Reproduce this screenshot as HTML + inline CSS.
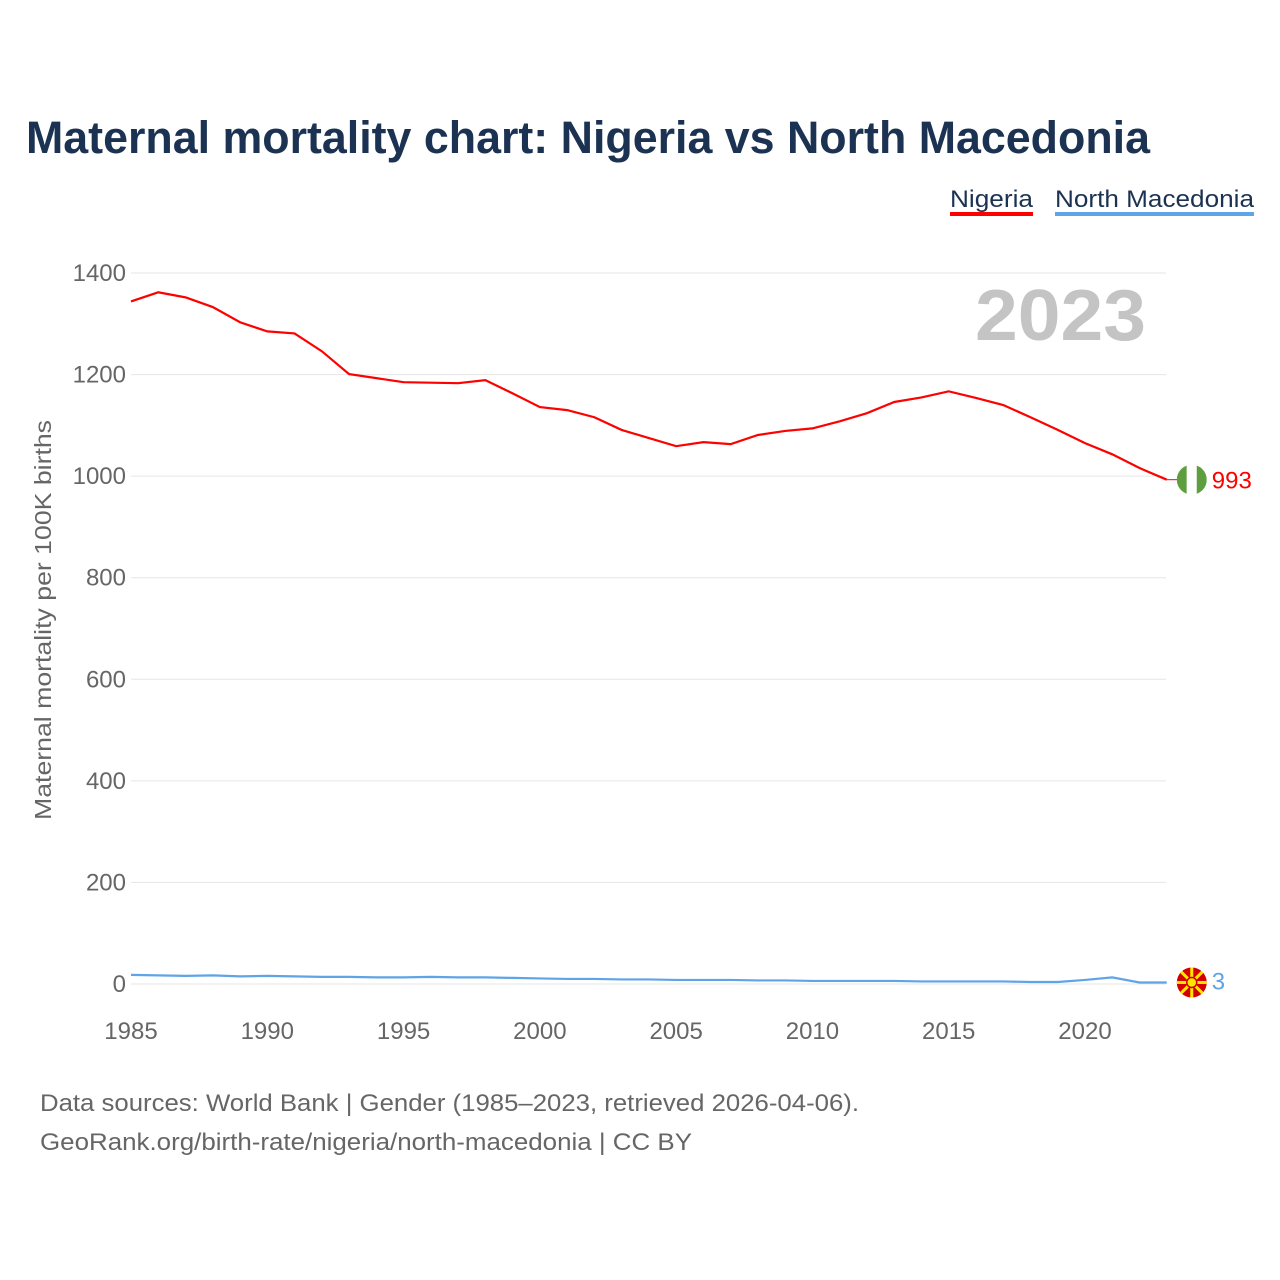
<!DOCTYPE html>
<html><head><meta charset="utf-8"><style>
body{margin:0;background:#fff;font-family:"Liberation Sans",sans-serif;}
svg{display:block}
</style></head><body>
<svg id="c" width="1280" height="1280" xmlns="http://www.w3.org/2000/svg">
<text x="26" y="153" font-size="45" font-weight="bold" fill="#1b3252" textLength="1124" lengthAdjust="spacingAndGlyphs">Maternal mortality chart: Nigeria vs North Macedonia</text>
<g>
<text x="950" y="207" font-size="24" fill="#1b3252" textLength="83" lengthAdjust="spacingAndGlyphs">Nigeria</text>
<rect x="950" y="212" width="83" height="4" fill="#ff0000"/>
<text x="1055" y="207" font-size="24" fill="#1b3252" textLength="199" lengthAdjust="spacingAndGlyphs">North Macedonia</text>
<rect x="1055" y="212" width="199" height="4" fill="#5fa4e6"/>
</g>
<text x="975" y="340" font-size="72" font-weight="bold" fill="#c4c4c4" textLength="171" lengthAdjust="spacingAndGlyphs">2023</text>
<text transform="translate(51,620) rotate(-90)" font-size="23" fill="#666" text-anchor="middle" textLength="400" lengthAdjust="spacingAndGlyphs">Maternal mortality per 100K births</text>
<g id="grid"></g><g id="lines"></g>
<text x="40" y="1111" font-size="24" fill="#666" textLength="819" lengthAdjust="spacingAndGlyphs">Data sources: World Bank | Gender (1985–2023, retrieved 2026-04-06).</text>
<text x="40" y="1150" font-size="24" fill="#666" textLength="652" lengthAdjust="spacingAndGlyphs">GeoRank.org/birth-rate/nigeria/north-macedonia | CC BY</text>
</svg>
<script>
const years=[];for(let y=1985;y<=2023;y++)years.push(y);
const nigeria=[1344,1362,1352,1333,1303,1285,1281,1246,1201,1193,1185,1184,1183,1189,1163,1136,1130,1116,1091,1075,1059,1067,1063,1081,1089,1094,1108,1124,1146,1155,1167,1154,1140,1116,1091,1065,1043,1016,993];
const macedonia=[18,17,16,17,15,16,15,14,14,13,13,14,13,13,12,11,10,10,9,9,8,8,8,7,7,6,6,6,6,5,5,5,5,4,4,8,13,3,3];
const yTicks=[0,200,400,600,800,1000,1200,1400];
const xTicks=[1985,1990,1995,2000,2005,2010,2015,2020];
const NS="http://www.w3.org/2000/svg";
const x=v=>131+(v-1985)*(1085-131)/35;
const y=v=>984-v*(984-273)/1400;
function mk(t,a,p){const e=document.createElementNS(NS,t);for(const k in a)e.setAttribute(k,a[k]);p.appendChild(e);return e;}
const g=document.getElementById('grid'),L=document.getElementById('lines');
yTicks.forEach(t=>{
 const l=mk('line',{x1:131,x2:1166,y1:y(t),y2:y(t),stroke:'#e6e6e6','stroke-width':1},g);
 
 
 const tx=mk('text',{x:126,y:y(t)+8,'font-size':24,fill:'#666','text-anchor':'end'},g);
 tx.textContent=t;
 
 
});
xTicks.forEach(t=>{
 const tx=mk('text',{x:x(t),y:1039,'font-size':24,fill:'#666','text-anchor':'middle'},g);
 tx.textContent=t;
 
 
});
function line(d,c,name){
 const p=mk('path',{d:d.map((v,i)=>(i?'L':'M')+x(years[i])+' '+y(v)).join(''),fill:'none',stroke:c,'stroke-width':2.2},L);
 
 
}
line(nigeria,'#ff0000','nigeria-line');
line(macedonia,'#5fa4e6','north-macedonia-line');
const lx=x(2023);
const ny=y(nigeria[nigeria.length-1]);
mk('line',{x1:lx,x2:lx+12,y1:ny,y2:ny,stroke:'#ff0000','stroke-width':1},L);
const fg=mk('g',{},L);


const cp=mk('clipPath',{id:'cn'},fg);
mk('circle',{cx:lx+25,cy:ny,r:15},cp);
const gi=mk('g',{'clip-path':'url(#cn)'},fg);
mk('rect',{x:lx+10,y:ny-15,width:10,height:30,fill:'#5f9e3f'},gi);
mk('rect',{x:lx+20,y:ny-15,width:10,height:30,fill:'#fff'},gi);
mk('rect',{x:lx+30,y:ny-15,width:10,height:30,fill:'#5f9e3f'},gi);
const nl=mk('text',{x:lx+45,y:ny+9,'font-size':24,fill:'#ff0000'},L);
nl.textContent=nigeria[nigeria.length-1];


const my=y(macedonia[macedonia.length-1]);
const mg=mk('g',{},L);


mk('circle',{cx:lx+25,cy:my,r:15,fill:'#d20000'},mg);
for(let i=0;i<8;i++){const a=i*Math.PI/4;mk('line',{x1:lx+25,y1:my,x2:lx+25+15*Math.cos(a),y2:my+15*Math.sin(a),stroke:'#ffe600','stroke-width':3},mg);}
mk('circle',{cx:lx+25,cy:my,r:5,fill:'#ffe600',stroke:'#d20000','stroke-width':1.5},mg);
const ml=mk('text',{x:lx+45,y:my+7,'font-size':24,fill:'#5fa4e6'},L);
ml.textContent=macedonia[macedonia.length-1];


</script>
</body></html>
